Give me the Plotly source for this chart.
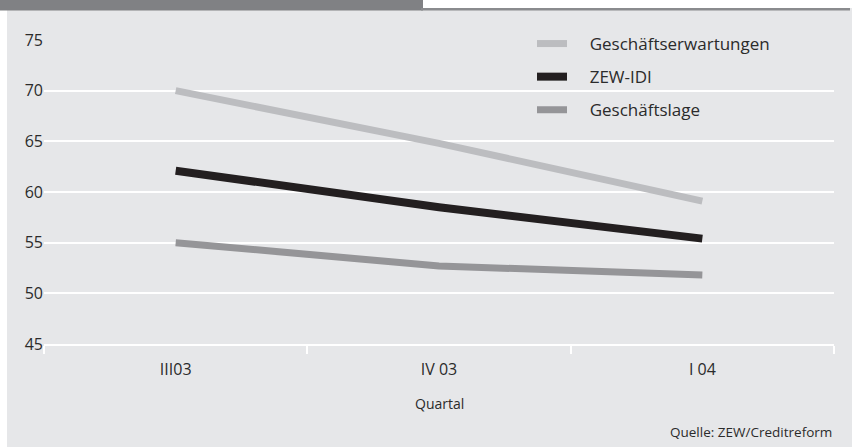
import plotly.graph_objects as go

categories = ["III03", "IV 03", "I 04"]
erwartungen = [70.0, 64.8, 59.1]
zew_idi = [62.1, 58.5, 55.4]
geschaeftslage = [55.0, 52.7, 51.8]

series_names = ["Geschäftserwartungen", "ZEW-IDI", "Geschäftslage"]
series_values = [erwartungen, zew_idi, geschaeftslage]
series_colors = ["#bcbdc0", "#231f20", "#959598"]
series_widths = [7, 8, 7]

PANEL = "#e6e7e9"
FONT = "Open Sans"
TXT = "#2b2b2b"

W, H = 852, 447
L, R, T, B = 44, 18, 40, 103
PW, PH = W - L - R, H - T - B


def fx(px):
    return (px - L) / PW


def fy(py):
    return (H - B - py) / PH


PAD = "\u00a0\u00a0\u00a0\u00a0"

fig = go.Figure()
for i, (name, vals, col, w) in enumerate(zip(series_names, series_values, series_colors, series_widths)):
    fig.add_trace(go.Scatter(
        x=categories, y=vals, name=PAD + name, mode="lines",
        line=dict(color=col, width=w), legendgroup=f"g{i}",
        hoverinfo="skip",
    ))

shapes = [
    dict(type="rect", xref="paper", yref="paper", x0=fx(0), x1=fx(7), y0=fy(447), y1=fy(0),
         fillcolor="white", line_width=0, layer="below"),
    dict(type="rect", xref="paper", yref="paper", x0=fx(0), x1=fx(423), y0=fy(10.5), y1=fy(0),
         fillcolor="#808184", line_width=0, layer="above"),
    dict(type="rect", xref="paper", yref="paper", x0=fx(423), x1=fx(852), y0=fy(8), y1=fy(0),
         fillcolor="white", line_width=0, layer="above"),
    dict(type="rect", xref="paper", yref="paper", x0=fx(421), x1=fx(850), y0=fy(10.5), y1=fy(8),
         fillcolor="#8a8b8e", line_width=0, layer="above"),
    dict(type="rect", xref="paper", yref="paper", x0=fx(517), x1=fx(798), y0=fy(125), y1=fy(28),
         fillcolor=PANEL, line_width=0, layer="between"),
]

annotations = [
    dict(text="Quartal", xref="paper", yref="paper", x=0.5, y=fy(403), xanchor="center",
         yanchor="middle", showarrow=False, font=dict(family=FONT, size=14, color=TXT)),
    dict(text="Quelle: ZEW/Creditreform", xref="paper", yref="paper", x=fx(834), y=fy(432),
         xanchor="right", yanchor="middle", showarrow=False, font=dict(family=FONT, size=13.5, color=TXT)),
]

fig.update_layout(
    width=W, height=H, autosize=False,
    margin=dict(l=L, r=R, t=T, b=B, pad=0),
    paper_bgcolor=PANEL, plot_bgcolor=PANEL,
    font=dict(family=FONT, size=16, color=TXT),
    showlegend=True,
    legend=dict(x=fx(532), y=fy(26), xanchor="left", yanchor="top",
                bgcolor="rgba(0,0,0,0)", tracegroupgap=8,
                font=dict(family=FONT, size=17, color=TXT), itemclick=False),
    shapes=shapes, annotations=annotations,
    xaxis=dict(type="category", range=[-0.5, 2.5], showgrid=False, zeroline=False,
               showline=True, linecolor="white", linewidth=1.5,
               ticks="outside", tickson="boundaries", ticklen=8, tickwidth=1.5,
               ticklabelstandoff=10,
               tickcolor="white", tickfont=dict(family=FONT, size=16, color=TXT), fixedrange=True),
    yaxis=dict(range=[45, 75], dtick=5, tick0=45, showgrid=True, gridcolor="white",
               gridwidth=1.5, zeroline=False, showline=False, ticks="",
               tickfont=dict(family=FONT, size=16, color=TXT), fixedrange=True),
)

fig.write_html("out.html")
